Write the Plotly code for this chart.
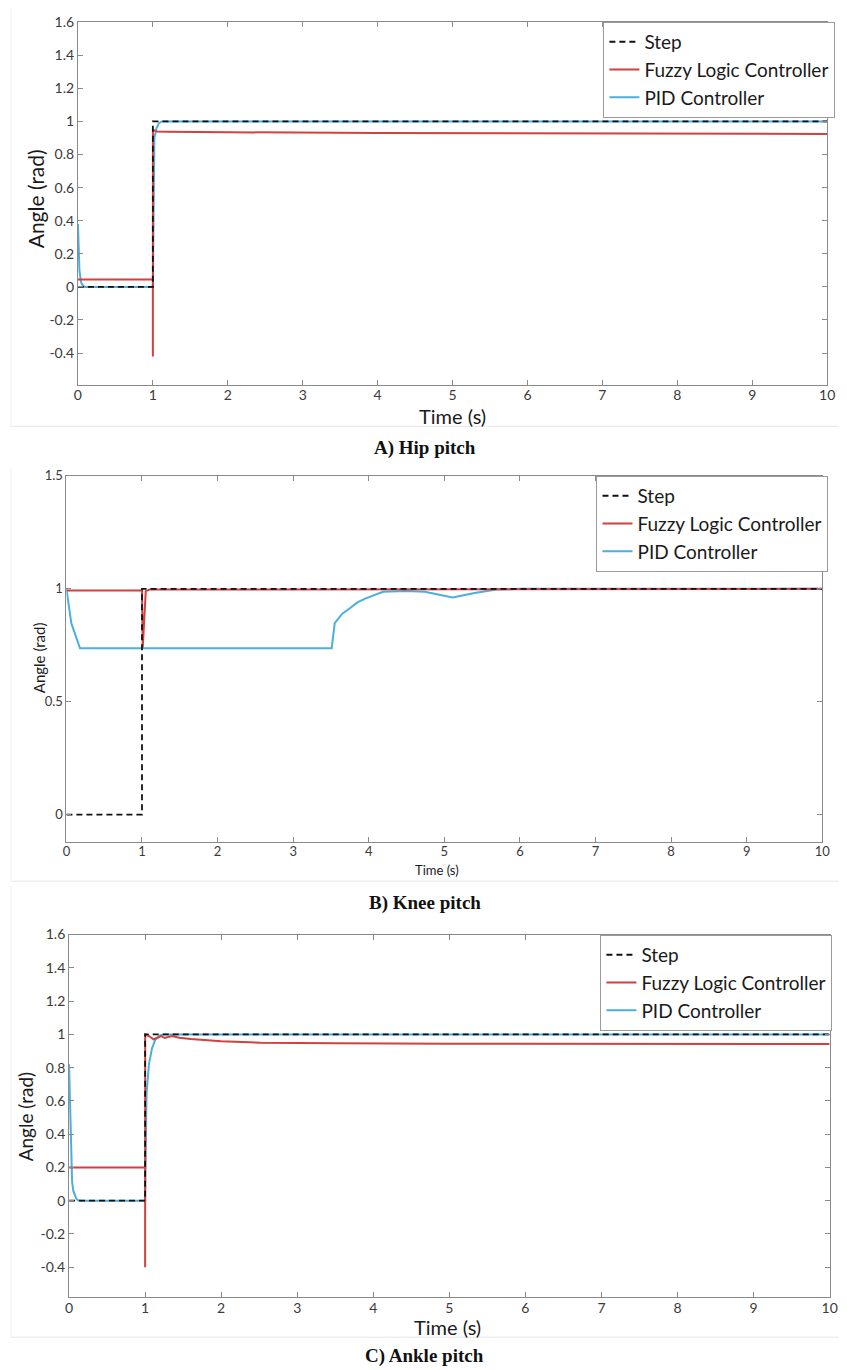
import plotly.graph_objects as go

W, H = 847, 1370

# ---------------- data ----------------
# A) Hip pitch
hip_step_t = [0, 1, 1, 10]
hip_step_y = [0, 0, 1, 1]
hip_fuzzy_t = [0, 1.0, 1.0, 1.001, 1.05, 1.2, 2, 4, 10]
hip_fuzzy_y = [0.045, 0.045, -0.42, 0.95, 0.94, 0.938, 0.935, 0.93, 0.925]
hip_pid_t = [0, 0.01, 0.02, 0.04, 0.07, 0.1, 1.0, 1.02, 1.05, 1.08, 1.12, 10]
hip_pid_y = [0.38, 0.22, 0.1, 0.03, 0.005, 0, 0, 0.9, 0.96, 0.99, 1.0, 1.0]

# B) Knee pitch
knee_step_t = [0, 1, 1, 10]
knee_step_y = [0, 0, 1, 1]
knee_fuzzy_t = [0, 1.0, 1.01, 1.05, 1.1, 10]
knee_fuzzy_y = [0.993, 0.993, 0.74, 0.99, 0.997, 1.0]
knee_pid_t = [0, 0.065, 0.18, 3.51, 3.55, 3.65, 3.75, 3.85, 3.96, 4.08, 4.19,
              4.5, 4.74, 5.11, 5.4, 5.69, 6.0, 10]
knee_pid_y = [1.0, 0.848, 0.737, 0.737, 0.848, 0.89, 0.914, 0.94, 0.958, 0.975, 0.987,
              0.99, 0.987, 0.962, 0.982, 0.997, 1.0, 1.0]

# C) Ankle pitch
ankle_step_t = [0, 1, 1, 10]
ankle_step_y = [0, 0, 1, 1]
ankle_fuzzy_t = [0, 1.0, 1.0, 1.001, 1.05, 1.11, 1.16, 1.21, 1.26, 1.3, 1.35, 1.45,
                 1.6, 2.0, 2.52, 3.5, 5, 10]
ankle_fuzzy_y = [0.2, 0.2, -0.4, 1.0, 0.99, 0.97, 0.98, 0.99, 0.978, 0.985, 0.99, 0.98,
                 0.972, 0.958, 0.95, 0.946, 0.944, 0.942]
ankle_pid_t = [0, 0.01, 0.017, 0.03, 0.04, 0.055, 0.074, 0.095, 0.117, 0.15, 1.0,
               1.018, 1.05, 1.09, 1.135, 1.2, 1.25, 10]
ankle_pid_y = [0.82, 0.62, 0.4, 0.2, 0.115, 0.06, 0.035, 0.012, 0.003, 0, 0,
               0.64, 0.82, 0.915, 0.97, 0.995, 1.0, 1.0]

x_ticks = list(range(0, 11))
ac_y_ticks = [-0.4, -0.2, 0, 0.2, 0.4, 0.6, 0.8, 1, 1.2, 1.4, 1.6]
ac_y_text = ["-0.4", "-0.2", "0", "0.2", "0.4", "0.6", "0.8", "1", "1.2", "1.4", "1.6"]
b_y_ticks = [0, 0.5, 1, 1.5]
b_y_text = ["0", "0.5", "1", "1.5"]

series_names = ["Step", "Fuzzy Logic Controller", "PID Controller"]
captions = ["A) Hip pitch", "B) Knee pitch", "C) Ankle pitch"]

# ---------------- style ----------------
FONT = "Lato"
AX = "#8a8a8a"
RED = "#D43F3F"
BLUE = "#4DAEDC"
STEP = "#111111"


def px_x(v):
    return v / W


def px_y(v):
    return 1 - v / H


fig = go.Figure()

panels = [
    dict(step=(hip_step_t, hip_step_y), fuzzy=(hip_fuzzy_t, hip_fuzzy_y),
         pid=(hip_pid_t, hip_pid_y), leg="legend"),
    dict(step=(knee_step_t, knee_step_y), fuzzy=(knee_fuzzy_t, knee_fuzzy_y),
         pid=(knee_pid_t, knee_pid_y), leg="legend2"),
    dict(step=(ankle_step_t, ankle_step_y), fuzzy=(ankle_fuzzy_t, ankle_fuzzy_y),
         pid=(ankle_pid_t, ankle_pid_y), leg="legend3"),
]

for i, p in enumerate(panels):
    xa = "x" if i == 0 else f"x{i+1}"
    ya = "y" if i == 0 else f"y{i+1}"
    fig.add_trace(go.Scatter(x=p["pid"][0], y=p["pid"][1], mode="lines",
                             name=series_names[2], line=dict(color=BLUE, width=2),
                             xaxis=xa, yaxis=ya, legend=p["leg"], legendrank=3))
    fig.add_trace(go.Scatter(x=p["fuzzy"][0], y=p["fuzzy"][1], mode="lines",
                             name=series_names[1], line=dict(color=RED, width=2),
                             xaxis=xa, yaxis=ya, legend=p["leg"], legendrank=2))
    fig.add_trace(go.Scatter(x=p["step"][0], y=p["step"][1], mode="lines",
                             name=series_names[0],
                             line=dict(color=STEP, width=1.8, dash="6px,4px"),
                             xaxis=xa, yaxis=ya, legend=p["leg"], legendrank=1))


def xaxis(domain, anchor, size):
    return dict(domain=domain, anchor=anchor, range=[0, 10], tickvals=x_ticks,
                showline=True, linecolor=AX, linewidth=1, mirror="ticks",
                ticks="inside", ticklen=5, tickcolor=AX, showgrid=False,
                zeroline=False, ticklabelstandoff=-2,
                tickfont=dict(family=FONT, size=size, color="#3a3a3a"))


def yaxis(domain, anchor, rng, tv, tt, size):
    return dict(domain=domain, anchor=anchor, range=rng, tickvals=tv, ticktext=tt,
                showline=True, linecolor=AX, linewidth=1, mirror="ticks",
                ticks="inside", ticklen=5, tickcolor=AX, showgrid=False,
                zeroline=False, tickfont=dict(family=FONT, size=size, color="#3a3a3a"))


leg_common = dict(xanchor="left", yanchor="top", bgcolor="white", bordercolor="#9a9a9a",
                  borderwidth=1, font=dict(family=FONT, size=19, color="#1a1a1a"),
                  itemwidth=30, tracegroupgap=0)

fig.update_layout(
    width=W, height=H, margin=dict(l=0, r=0, t=0, b=0),
    paper_bgcolor="white", plot_bgcolor="white", showlegend=True,
    xaxis=xaxis([px_x(75), px_x(835)], "y", 14),
    yaxis=yaxis([px_y(378), px_y(13.3)], "x", [-0.59, 1.6], ac_y_ticks, ac_y_text, 14),
    xaxis2=xaxis([px_x(63.3), px_x(830)], "y2", 13),
    yaxis2=yaxis([px_y(838.3), px_y(470)], "x2", [-0.12, 1.5], b_y_ticks, b_y_text, 13),
    xaxis3=xaxis([px_x(66), px_x(837.5)], "y3", 14),
    yaxis3=yaxis([px_y(1296.7), px_y(931.7)], "x3", [-0.58, 1.6], ac_y_ticks, ac_y_text, 14),
    legend=dict(x=px_x(608), y=px_y(13), **leg_common),
    legend2=dict(x=px_x(601), y=px_y(470), **leg_common),
    legend3=dict(x=px_x(605), y=px_y(932), **leg_common),
)

# axis titles
ann = []
ann.append(dict(text="Time (s)", x=px_x(455), y=px_y(410), font=dict(size=20)))
ann.append(dict(text="Angle (rad)", x=px_x(32), y=px_y(191), textangle=-90, font=dict(size=21)))
ann.append(dict(text="Time (s)", x=px_x(439), y=px_y(867), font=dict(size=13)))
ann.append(dict(text="Angle (rad)", x=px_x(35), y=px_y(653), textangle=-90, font=dict(size=15)))
ann.append(dict(text="Time (s)", x=px_x(450), y=px_y(1327), font=dict(size=20)))
ann.append(dict(text="Angle (rad)", x=px_x(22), y=px_y(1115), textangle=-90, font=dict(size=19)))
for a in ann:
    a.update(xref="paper", yref="paper", showarrow=False, xanchor="center", yanchor="middle")
    a["font"].update(family=FONT, color="#1a1a1a")
    fig.add_annotation(**a)

# captions
for cap, cy in zip(captions, [441.5, 900, 1356]):
    fig.add_annotation(text=f"<b>{cap}</b>", x=px_x(427), y=px_y(cy), xref="paper", yref="paper",
                       showarrow=False, xanchor="center", yanchor="middle",
                       font=dict(family="Liberation Serif", size=19, color="#111111"))

# faint panel borders
for y0, y1 in [(0, 420), (462, 878), (882, 1337)]:
    fig.add_shape(type="line", xref="paper", yref="paper", x0=px_x(7), x1=1,
                  y0=px_y(y1), y1=px_y(y1), line=dict(color="#e6e6e6", width=1))
    fig.add_shape(type="line", xref="paper", yref="paper", x0=px_x(7), x1=px_x(7),
                  y0=px_y(y1), y1=px_y(y0), line=dict(color="#f0f0f0", width=1))

fig.write_html("out.html")
